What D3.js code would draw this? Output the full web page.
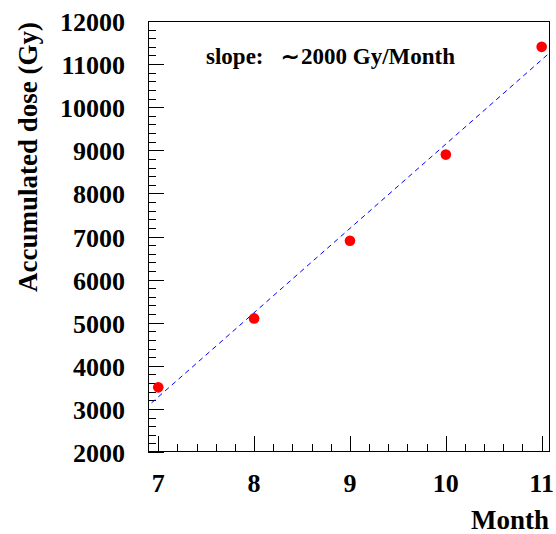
<!DOCTYPE html>
<html>
<head>
<meta charset="utf-8">
<script src="https://cdn.jsdelivr.net/npm/d3@7"></script>
<style>
  html, body { margin: 0; padding: 0; background: #fff; }
  svg { display: block; }
  text { font-family: "Liberation Serif", "Times New Roman", serif; font-weight: bold; fill: #000; }
</style>
</head>
<body>
<svg id="chart" width="556" height="534"></svg>
<script>
// Data
const months = [7, 8, 9, 10, 11];
const dose = [3500, 5100, 6900, 8900, 11400];
const fitX = [6.93, 11.087];
const fitY = [3140, 11270];
const xTickValues = [7, 8, 9, 10, 11];
const yTickValues = [2000, 3000, 4000, 5000, 6000, 7000, 8000, 9000, 10000, 11000, 12000];
const annotationLabel = "slope:";
const annotationValue = "2000 Gy/Month";
const xTitle = "Month";
const yTitle = "Accumulated dose (Gy)";

const frame = { left: 148, right: 550, top: 21, bottom: 452 };
const svg = d3.select("#chart");

const x = d3.scaleLinear().domain([6.893, 11.087]).range([frame.left, frame.right]);
const y = d3.scaleLinear().domain([2000, 12000]).range([frame.bottom, frame.top]);

const xMinor = d3.range(7, 11.0001, 0.2).filter(v => Math.abs(v - Math.round(v)) > 1e-6);
const yMinor = d3.range(2000, 12001, 200).filter(v => v % 1000 !== 0);

const g = svg.append("g");

g.selectAll(".ymaj").data(yTickValues).enter().append("line")
  .attr("x1", frame.left).attr("x2", frame.left + 16)
  .attr("y1", d => Math.round(y(d)) + 0.5).attr("y2", d => Math.round(y(d)) + 0.5)
  .attr("stroke", "#000").attr("stroke-width", 1);
g.selectAll(".ymin").data(yMinor).enter().append("line")
  .attr("x1", frame.left).attr("x2", frame.left + 8)
  .attr("y1", d => Math.round(y(d)) + 0.5).attr("y2", d => Math.round(y(d)) + 0.5)
  .attr("stroke", "#000").attr("stroke-width", 1);

g.selectAll(".xmaj").data(xTickValues).enter().append("line")
  .attr("y1", frame.bottom).attr("y2", frame.bottom - 16)
  .attr("x1", d => Math.round(x(d)) + 0.5).attr("x2", d => Math.round(x(d)) + 0.5)
  .attr("stroke", "#000").attr("stroke-width", 1);
g.selectAll(".xmin").data(xMinor).enter().append("line")
  .attr("y1", frame.bottom).attr("y2", frame.bottom - 8)
  .attr("x1", d => Math.round(x(d)) + 0.5).attr("x2", d => Math.round(x(d)) + 0.5)
  .attr("stroke", "#000").attr("stroke-width", 1);

g.selectAll(".ylab").data(yTickValues).enter().append("text")
  .attr("x", 125).attr("y", d => y(d) + 10)
  .attr("text-anchor", "end").attr("font-size", 26)
  .text(d => d);
g.selectAll(".xlab").data(xTickValues).enter().append("text")
  .attr("x", d => x(d)).attr("y", 492)
  .attr("text-anchor", "middle").attr("font-size", 26)
  .text(d => d);

const line = d3.line().x(d => x(d[0])).y(d => y(d[1]));
g.append("path")
  .datum(fitX.map((v, i) => [v, fitY[i]]))
  .attr("d", line)
  .attr("fill", "none").attr("stroke", "#0000ff").attr("stroke-width", 1)
  .attr("stroke-dasharray", "5,4");

g.selectAll(".pt").data(months).enter().append("circle")
  .attr("cx", d => x(d)).attr("cy", (d, i) => y(dose[i]))
  .attr("r", 5.3).attr("fill", "#ff0000");

g.append("rect")
  .attr("x", frame.left + 0.5).attr("y", frame.top + 0.5)
  .attr("width", frame.right - frame.left - 1).attr("height", frame.bottom - frame.top - 1)
  .attr("fill", "none").attr("stroke", "#000").attr("stroke-width", 1);

g.append("text").attr("x", 206).attr("y", 63.5).attr("font-size", 23).text(annotationLabel);
g.append("text").attr("x", 281).attr("y", 63.5).attr("font-size", 22)
  .attr("font-family", "'DejaVu Serif', serif").attr("font-weight", "normal").text("\u223C");
g.append("text").attr("x", 301).attr("y", 63.5).attr("font-size", 23).text(annotationValue);

g.append("text").attr("x", 549).attr("y", 529).attr("text-anchor", "end")
  .attr("font-size", 27).text(xTitle);
g.append("text").attr("transform", "translate(37,22) rotate(-90)")
  .attr("text-anchor", "end").attr("font-size", 27).text(yTitle);
</script>
</body>
</html>
